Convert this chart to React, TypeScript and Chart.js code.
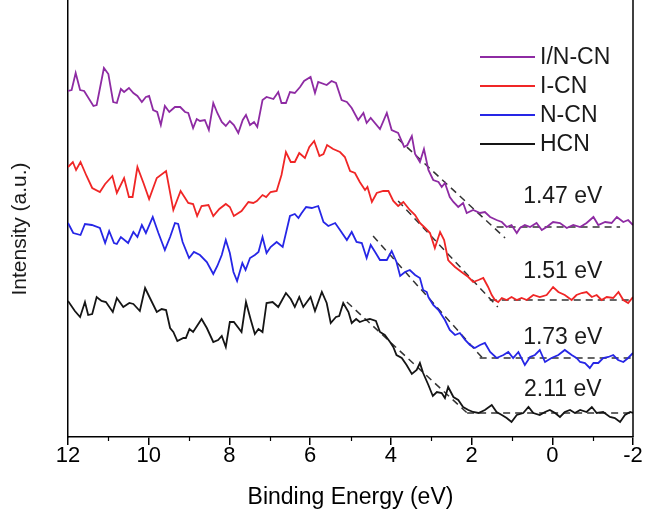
import React, { useEffect, useRef } from "react";
import { Chart, registerables } from "chart.js";

Chart.register(...registerables);

const FONT = '"Liberation Sans", Arial, Helvetica, sans-serif';

// ---- data (binding energy in eV, intensity in arbitrary units, curves offset for display) ----
const seriesLabels = ["I/N-CN", "I-CN", "N-CN", "HCN"];
const seriesColors = ["#8E2BA3", "#F02626", "#2626E6", "#151515"];

const inCnEnergy = [12.00,11.91,11.81,11.70,11.60,11.37,11.29,11.11,11.00,10.88,10.79,10.69,10.61,10.49,10.38,10.28,10.17,10.07,9.99,9.89,9.79,9.70,9.60,9.49,9.35,9.22,9.10,9.02,8.90,8.81,8.73,8.61,8.51,8.40,8.30,8.19,8.09,7.99,7.89,7.78,7.67,7.59,7.49,7.39,7.31,7.18,7.08,6.91,6.79,6.71,6.60,6.50,6.38,6.25,6.15,5.99,5.88,5.80,5.59,5.47,5.36,5.22,5.09,4.97,4.81,4.68,4.60,4.50,4.27,4.10,3.98,3.82,3.67,3.59,3.48,3.40,3.28,3.18,3.07,2.95,2.82,2.74,2.66,2.54,2.45,2.33,2.21,2.12,1.96,1.79,1.67,1.54,1.38,1.25,1.13,1.01,0.88,0.80,0.68,0.55,0.39,0.26,0.14,-0.02,-0.19,-0.36,-0.52,-0.69,-0.85,-1.02,-1.14,-1.31,-1.47,-1.60,-1.76,-1.88,-2.00];
const inCnIntensity = [346,347,364,347,346,331,332,369,363,335,334,348,345,349,344,341,335,340,341,327,325,312,331,325,330,330,325,324,309,318,316,317,307,334,324,315,311,316,312,304,317,322,312,315,310,337,340,338,345,334,334,345,344,350,356,360,344,355,352,356,354,337,335,329,317,324,314,319,308,324,307,304,290,292,301,283,275,288,267,257,255,250,254,240,235,230,234,224,227,224,225,220,217,215,210,212,204,209,212,210,214,207,210,215,214,209,212,210,214,220,212,215,214,220,215,217,212];

const iCnEnergy = [12.00,11.88,11.80,11.69,11.54,11.40,11.21,11.08,10.90,10.79,10.61,10.49,10.40,10.28,10.13,9.99,9.80,9.57,9.39,9.21,9.02,8.90,8.80,8.69,8.52,8.40,8.25,8.09,7.99,7.89,7.70,7.53,7.41,7.32,7.18,7.09,6.98,6.83,6.71,6.60,6.48,6.38,6.27,6.13,6.02,5.90,5.77,5.67,5.58,5.43,5.26,5.14,5.01,4.89,4.77,4.64,4.58,4.47,4.35,4.19,4.06,3.94,3.82,3.69,3.53,3.40,3.28,3.15,3.03,2.91,2.78,2.68,2.58,2.54,2.41,2.25,2.08,1.96,1.83,1.71,1.59,1.50,1.42,1.34,1.25,1.13,1.01,0.88,0.76,0.63,0.47,0.31,0.14,-0.02,-0.15,-0.31,-0.48,-0.60,-0.73,-0.85,-0.98,-1.10,-1.22,-1.35,-1.51,-1.64,-1.76,-1.88,-2.00];
const iCnIntensity = [270,275,267,275,261,249,245,253,261,244,259,240,240,270,254,238,259,266,227,246,234,233,221,231,232,221,228,233,230,221,226,235,234,236,242,240,245,246,262,285,275,275,284,279,290,296,281,283,292,288,285,280,266,264,255,247,250,235,244,246,246,236,231,235,227,222,214,209,204,189,205,197,177,175,170,165,160,155,157,159,150,142,137,135,139,137,140,137,139,137,142,140,142,150,145,142,137,142,144,145,140,142,137,140,139,145,137,134,140];

const nCnEnergy = [12.00,11.87,11.69,11.58,11.41,11.21,11.08,10.98,10.86,10.79,10.69,10.51,10.38,10.28,10.17,10.07,9.90,9.76,9.60,9.47,9.35,9.27,9.16,9.00,8.88,8.73,8.56,8.40,8.30,8.19,8.09,7.99,7.90,7.81,7.68,7.60,7.49,7.37,7.28,7.18,7.08,6.98,6.83,6.68,6.50,6.38,6.29,6.21,6.10,5.96,5.80,5.67,5.55,5.38,5.26,5.09,4.97,4.85,4.72,4.60,4.50,4.39,4.27,4.10,3.98,3.86,3.77,3.65,3.53,3.40,3.28,3.20,3.11,3.07,2.95,2.82,2.66,2.54,2.41,2.29,2.16,2.04,1.92,1.79,1.67,1.54,1.38,1.21,1.09,0.97,0.84,0.68,0.55,0.43,0.31,0.18,0.02,-0.15,-0.31,-0.48,-0.60,-0.69,-0.81,-0.93,-1.02,-1.14,-1.26,-1.39,-1.51,-1.63,-1.76,-1.88,-2.00];
const nCnIntensity = [214,204,202,213,212,209,194,206,194,193,200,194,205,200,212,204,220,204,187,200,214,213,195,179,185,182,175,163,171,182,197,184,165,156,174,167,179,182,185,200,184,190,195,190,221,223,219,224,230,229,231,215,211,214,207,197,205,195,194,179,192,185,177,177,186,175,161,165,167,162,159,147,145,140,132,127,117,107,102,104,97,92,89,92,94,85,79,82,85,79,85,72,80,82,87,75,79,82,87,82,79,75,74,69,74,74,79,80,82,77,75,79,84];

const hCnEnergy = [12.00,11.83,11.70,11.58,11.50,11.40,11.29,11.17,11.06,10.89,10.79,10.63,10.48,10.38,10.22,10.09,9.97,9.80,9.68,9.57,9.47,9.39,9.29,9.14,9.08,8.99,8.90,8.69,8.56,8.40,8.28,8.19,8.09,7.99,7.89,7.70,7.59,7.47,7.37,7.28,7.18,7.08,6.93,6.79,6.60,6.48,6.38,6.27,6.17,5.99,5.88,5.71,5.59,5.49,5.36,5.28,5.18,5.05,4.97,4.86,4.77,4.64,4.52,4.37,4.27,4.15,4.02,3.94,3.86,3.73,3.61,3.48,3.36,3.28,3.20,3.07,2.96,2.86,2.74,2.66,2.58,2.45,2.33,2.21,2.08,1.96,1.83,1.67,1.50,1.38,1.25,1.13,1.01,0.88,0.72,0.59,0.47,0.31,0.18,0.06,-0.07,-0.19,-0.31,-0.44,-0.56,-0.69,-0.85,-0.98,-1.10,-1.26,-1.43,-1.55,-1.68,-1.80,-1.93,-2.00];
const hCnIntensity = [136,126,120,135,122,123,140,136,135,125,139,130,134,133,126,149,139,125,128,127,109,105,96,99,99,108,105,118,109,95,97,101,90,115,115,105,135,117,103,108,105,134,135,130,144,138,130,140,130,140,126,145,134,114,120,121,134,125,114,118,115,117,118,116,105,102,95,90,82,79,72,63,67,74,64,52,41,45,44,39,50,40,37,30,27,25,24,27,32,25,22,19,15,22,24,30,24,22,25,27,24,20,25,27,24,27,25,30,24,25,20,19,15,22,25,24];

// linear fits (edge extrapolation), endpoints [E, I]
const fitSlopeEnergy = [[3.82, 1.17], [3.82, 1.35], [4.44, 1.73], [5.09, 2.11]];
const fitSlopeIntensity = [[298, 199], [236, 130], [201, 79], [135, 24]];
const fitBaseEnergy = [[1.38, -1.68], [1.55, -1.95], [1.80, -2.0], [2.11, -2.0]];
const fitBaseIntensity = [[210, 210], [137, 137], [79, 79], [24, 24]];

// band-gap annotations
const gapLabels = ["1.47 eV", "1.51 eV", "1.73 eV", "2.11 eV"];
const gapLabelEnergy = -0.26;
const gapLabelIntensity = [240, 165, 99, 47];

const xTickMin = -2;
const xTickMax = 12;
const xMajorStep = 2;

const zip = (xs: number[], ys: number[]) => {
  const n = Math.min(xs.length, ys.length);
  const out: { x: number; y: number }[] = [];
  for (let i = 0; i < n; i++) out.push({ x: xs[i], y: ys[i] });
  return out;
};

const seriesData = [
  zip(inCnEnergy, inCnIntensity),
  zip(iCnEnergy, iCnIntensity),
  zip(nCnEnergy, nCnIntensity),
  zip(hCnEnergy, hCnIntensity),
];

const decorPlugin = {
  id: "decor",
  afterDraw(chart: any) {
    const { ctx, chartArea, scales } = chart;
    const xs = scales.x;
    const ys = scales.y;
    ctx.save();
    // right frame line
    ctx.strokeStyle = "#000";
    ctx.lineWidth = 1.5;
    ctx.beginPath();
    ctx.moveTo(chartArea.right, chartArea.top);
    ctx.lineTo(chartArea.right, chartArea.bottom);
    ctx.stroke();
    // minor ticks
    ctx.lineWidth = 1.2;
    for (let v = xTickMin + 1; v < xTickMax; v += xMajorStep) {
      const px = Math.round(xs.getPixelForValue(v)) + 0.5;
      ctx.beginPath();
      ctx.moveTo(px, chartArea.bottom);
      ctx.lineTo(px, chartArea.bottom + 4);
      ctx.stroke();
    }
    // legend
    ctx.font = `23px ${FONT}`;
    ctx.textBaseline = "middle";
    ctx.textAlign = "left";
    for (let i = 0; i < seriesLabels.length; i++) {
      const y = 57 + i * 29;
      ctx.strokeStyle = seriesColors[i];
      ctx.lineWidth = 1.8;
      ctx.beginPath();
      ctx.moveTo(480, y);
      ctx.lineTo(535, y);
      ctx.stroke();
      ctx.fillStyle = "#1a1a1a";
      ctx.fillText(seriesLabels[i], 540, y + 1);
    }
    // band gap labels
    ctx.textAlign = "center";
    for (let i = 0; i < gapLabels.length; i++) {
      ctx.fillText(gapLabels[i], xs.getPixelForValue(gapLabelEnergy), ys.getPixelForValue(gapLabelIntensity[i]));
    }
    // y-axis title
    ctx.translate(20, 229);
    ctx.rotate(-Math.PI / 2);
    ctx.font = `21px ${FONT}`;
    ctx.textAlign = "center";
    ctx.textBaseline = "middle";
    ctx.fillText("Intensity (a.u.)", 0, 0);
    ctx.restore();
  },
};

export default function App() {
  const canvasRef = useRef<HTMLCanvasElement | null>(null);

  useEffect(() => {
    const canvas = canvasRef.current;
    if (!canvas) return;

    const datasets: any[] = seriesData.map((d, i) => ({
      label: seriesLabels[i],
      data: d,
      borderColor: seriesColors[i],
      borderWidth: 1.8,
      pointRadius: 0,
      tension: 0,
      fill: false,
    }));
    for (let i = 0; i < fitSlopeEnergy.length; i++) {
      datasets.push({
        label: "fit",
        data: zip(fitSlopeEnergy[i], fitSlopeIntensity[i]),
        borderColor: "#333333",
        borderWidth: 1.5,
        borderDash: [7, 5],
        pointRadius: 0,
        fill: false,
      });
      datasets.push({
        label: "base",
        data: zip(fitBaseEnergy[i], fitBaseIntensity[i]),
        borderColor: "#333333",
        borderWidth: 1.5,
        borderDash: [7, 5],
        pointRadius: 0,
        fill: false,
      });
    }

    const chart = new Chart(canvas, {
      type: "line",
      data: { datasets },
      options: {
        responsive: false,
        devicePixelRatio: 1,
        animation: false,
        layout: { padding: { top: 0, right: 13, left: 0, bottom: 0 } },
        plugins: { legend: { display: false }, tooltip: { enabled: false } },
        scales: {
          x: {
            type: "linear",
            reverse: true,
            min: xTickMin,
            max: xTickMax,
            afterFit: (s: any) => {
              s.height = 76;
            },
            ticks: {
              stepSize: xMajorStep,
              color: "#000",
              font: { family: FONT, size: 22 },
              padding: -2,
              maxRotation: 0,
            },
            grid: {
              drawOnChartArea: false,
              drawTicks: true,
              tickLength: 8,
              color: "#000",
              lineWidth: 1.5,
            },
            border: { display: true, color: "#000", width: 1.5 },
            title: {
              display: true,
              text: "Binding Energy (eV)",
              color: "#000",
              font: { family: FONT, size: 23 },
              padding: { top: 0, bottom: 2 },
            },
          },
          y: {
            type: "linear",
            min: 0,
            max: 437,
            afterFit: (s: any) => {
              s.width = 68;
            },
            ticks: { display: false },
            grid: { drawOnChartArea: false, drawTicks: false, color: "#000" },
            border: { display: true, color: "#000", width: 1.5 },
          },
        },
      } as any,
      plugins: [decorPlugin],
    });

    return () => chart.destroy();
  }, []);

  return (
    <div style={{ position: "fixed", left: 0, top: 0, width: 646, height: 513, background: "#fff" }}>
      <canvas ref={canvasRef} width={646} height={513} style={{ display: "block" }} />
    </div>
  );
}
